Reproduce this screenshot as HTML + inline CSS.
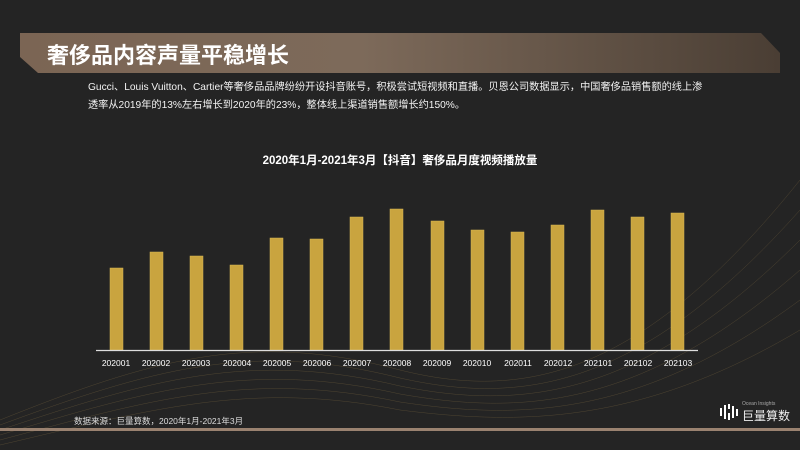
<!DOCTYPE html>
<html><head><meta charset="utf-8"><style>
body{margin:0;width:800px;height:450px;background:#242424;overflow:hidden;position:relative;font-family:"Liberation Sans","Noto Sans CJK SC",sans-serif;}
.t{position:absolute;white-space:nowrap;color:#fff;}
</style></head><body>
<svg width="800" height="450" style="position:absolute;left:0;top:0">
<defs>
<linearGradient id="g" x1="0" x2="1" y1="0" y2="0">
<stop offset="0" stop-color="#7b6554"/><stop offset="0.45" stop-color="#7d6a5a"/><stop offset="1" stop-color="#4a3e34"/></linearGradient>
</defs>
<polygon points="20,33 761,33 780,53 780,73 38,73 20,57" fill="url(#g)"/>
<g stroke="#6b5a3a" stroke-width="0.5" fill="none" opacity="0.6">
<path d="M0,420 C150,360 250,330 400,370 C520,400 640,380 800,180"/>
<path d="M0,425 C150,370 250,340 400,378 C520,405 640,390 800,210"/>
<path d="M0,430 C150,380 250,350 400,386 C520,410 640,400 800,240"/>
<path d="M0,435 C150,390 250,360 400,394 C520,415 640,410 800,270"/>
<path d="M0,440 C150,400 250,370 400,402 C520,420 640,418 800,300"/>
<path d="M0,445 C150,410 250,380 400,410 C520,425 640,425 800,330"/>
</g>
<line x1="0" y1="429.5" x2="800" y2="429.5" stroke="#9a8270" stroke-width="3"/>
<g fill="#c9a43f" stroke="#d8b752" stroke-width="0.5">
<rect x="110" y="268" width="13" height="82"/>
<rect x="150" y="252" width="13" height="98"/>
<rect x="190" y="256" width="13" height="94"/>
<rect x="230" y="265" width="13" height="85"/>
<rect x="270" y="238" width="13" height="112"/>
<rect x="310" y="239" width="13" height="111"/>
<rect x="350" y="217" width="13" height="133"/>
<rect x="390" y="209" width="13" height="141"/>
<rect x="431" y="221" width="13" height="129"/>
<rect x="471" y="230" width="13" height="120"/>
<rect x="511" y="232" width="13" height="118"/>
<rect x="551" y="225" width="13" height="125"/>
<rect x="591" y="210" width="13" height="140"/>
<rect x="631" y="217" width="13" height="133"/>
<rect x="671" y="213" width="13" height="137"/>
</g>
<line x1="96" y1="350.5" x2="698" y2="350.5" stroke="#ddd" stroke-width="1.2"/>
<g fill="#fff" font-size="8.5" text-anchor="middle" font-family="Liberation Sans,sans-serif">
<text x="116" y="366">202001</text><text x="156" y="366">202002</text><text x="196" y="366">202003</text>
<text x="237" y="366">202004</text><text x="277" y="366">202005</text><text x="317" y="366">202006</text>
<text x="357" y="366">202007</text><text x="397" y="366">202008</text><text x="437" y="366">202009</text>
<text x="477" y="366">202010</text><text x="518" y="366">202011</text><text x="558" y="366">202012</text>
<text x="598" y="366">202101</text><text x="638" y="366">202102</text><text x="678" y="366">202103</text>
</g>
<g fill="#fff"><rect x="720" y="408" width="2" height="8"/><rect x="724" y="405" width="2" height="14"/><rect x="728" y="404" width="2" height="5"/><rect x="728" y="413" width="2" height="7"/><rect x="732" y="406" width="2" height="12"/><rect x="736" y="409" width="2" height="7"/></g>
</svg>
<div class="t" style="left:47px;top:38px;font-size:22px;font-weight:bold;">奢侈品内容声量平稳增长</div>
<div class="t" style="left:88px;top:79px;font-size:10.2px;line-height:18px;color:#f2f2f2">Gucci、Louis Vuitton、Cartier等奢侈品品牌纷纷开设抖音账号，积极尝试短视频和直播。贝恩公司数据显示，中国奢侈品销售额的线上渗<br>透率从2019年的13%左右增长到2020年的23%，整体线上渠道销售额增长约150%。</div>
<div class="t" style="left:0;width:800px;text-align:center;top:152px;font-size:11.5px;font-weight:bold;">2020年1月-2021年3月【抖音】奢侈品月度视频播放量</div>
<div class="t" style="left:74px;top:415px;font-size:8.5px;color:#ddd">数据来源：巨量算数，2020年1月-2021年3月</div>
<div class="t" style="left:742px;top:401px;font-size:5px;color:#aaa">Ocean Insights</div>
<div class="t" style="left:742px;top:407px;font-size:12px;color:#eee;">巨量算数</div>
</body></html>
